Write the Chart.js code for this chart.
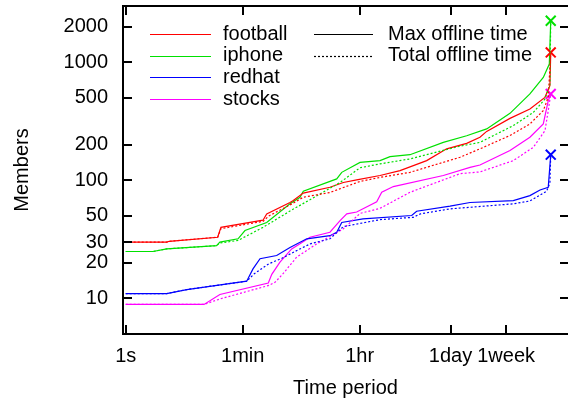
<!DOCTYPE html>
<html>
<head>
<meta charset="utf-8">
<script src="https://cdn.jsdelivr.net/npm/chart.js@4.4.1/dist/chart.umd.min.js"></script>
<style>
  body { margin: 0; background: #fff; }
  canvas { display: block; }
</style>
</head>
<body>
<canvas id="myChart" width="568" height="403"></canvas>
<script>
// axis ticks
const xTickValues = [1, 60, 3600, 86400, 604800];
const xTickLabels = ["1s", "1min", "1hr", "1day", "1week"];
const yTickValues = [10, 20, 30, 50, 100, 200, 500, 1000, 2000];

// series: time period (seconds) -> members
const footballMaxTime = [1, 4.2, 4.6, 25, 28, 122, 139, 314, 352, 500, 1270, 2030, 3240, 7330, 14750, 37500, 75500, 152000, 242000, 306000, 692000, 1390000, 2350000, 2800000, 2880000];
const footballMax = [30, 30, 30.5, 33, 40, 46, 52, 65, 67.5, 78, 87.5, 96, 101, 110, 121, 147, 185, 206, 232, 260, 335, 403, 505, 634, 1213];
const footballTotalTime = [1, 4.2, 4.6, 25, 28, 122, 150, 314, 500, 1270, 3640, 7330, 20900, 120500, 242000, 692000, 1390000, 2220000, 2640000, 2880000];
const footballTotal = [30, 30, 30.5, 33, 39, 45, 50, 62, 72, 79, 98, 106, 117, 157, 185, 240, 301, 390, 505, 1213];

const iphoneMaxTime = [1, 2.6, 4.2, 24, 27, 51, 65, 139, 314, 446, 500, 1610, 1920, 3640, 7330, 10400, 20900, 67100, 152000, 306000, 692000, 1390000, 2220000, 2740000, 2880000];
const iphoneMax = [25, 25, 26.3, 28, 30, 32, 37.6, 44, 63.5, 72, 81, 103, 117, 142, 147, 159, 165, 210, 239, 273, 370, 540, 745, 968, 2250];
const iphoneTotalTime = [1, 2.6, 4.2, 24, 27, 51, 122, 314, 1810, 3640, 7330, 20900, 120500, 242000, 777000, 1570000, 2355000, 2800000, 2880000];
const iphoneTotal = [25, 25, 26.3, 28, 29.5, 31, 40, 55, 96, 128, 138, 152, 195, 210, 291, 377, 489, 655, 2250];

const redhatMaxTime = [1, 4.2, 8.5, 69, 86, 110, 197, 314, 564, 1270, 1610, 1920, 4040, 22200, 26400, 84900, 171000, 777000, 1390000, 1980000, 2640000, 2880000];
const redhatMax = [11, 11, 11.9, 14, 17.8, 21.7, 23.1, 27, 32, 34, 36.4, 44, 47.2, 50.4, 54.8, 60.5, 65, 67.5, 74.3, 83, 87.5, 165];
const redhatTotalTime = [1, 4.2, 8.5, 69, 90, 150, 230, 400, 640, 1270, 2030, 7330, 23500, 30000, 84900, 777000, 1390000, 2490000, 2800000, 2880000];
const redhatTotal = [11, 11, 11.9, 14, 16.2, 19.7, 21.7, 25.5, 29, 32, 40.6, 46.5, 48.7, 52, 57.4, 63.3, 67, 80.9, 95, 165];

const stocksMaxTime = [1, 15.5, 27, 147, 166, 221, 333, 446, 632, 1270, 1810, 2290, 3240, 6530, 7780, 11670, 67100, 171000, 242000, 692000, 1390000, 2220000, 2640000, 2880000];
const stocksMax = [8.9, 8.9, 10.8, 13.5, 16, 20.3, 26.3, 29, 33, 36.4, 45.7, 52, 54, 66, 79.3, 88.7, 110, 129, 135, 179, 232, 301, 473, 540];
const stocksTotalTime = [1, 15.5, 27, 150, 186, 246, 397, 800, 2030, 3640, 7330, 20900, 120500, 242000, 777000, 1570000, 2355000, 2640000, 2880000];
const stocksTotal = [8.9, 8.9, 9.9, 12.9, 13.7, 16.2, 22.4, 29, 38.9, 52.5, 58, 79.3, 114, 118, 147, 191, 264, 390, 540];

const groupLabels = ["football", "iphone", "redhat", "stocks"];
const groupColors = ["#ff0000", "#00e000", "#0000ff", "#ff00ff"];
const styleLabels = ["Max offline time", "Total offline time"];

const FONT = "'Liberation Sans', Arial, sans-serif";

function points(times, values) {
  return times.map((t, i) => ({ x: t, y: values[i] }));
}

function solid(times, values, color) {
  return {
    data: points(times, values),
    borderColor: color,
    backgroundColor: color,
    borderWidth: 1.2,
    pointStyle: "crossRot",
    pointRadius: (c) => (c.dataIndex === times.length - 1 ? 7 : 0),
    pointBorderWidth: 2,
    tension: 0,
  };
}

function dotted(times, values, color) {
  return {
    data: points(times, values),
    borderColor: color,
    borderWidth: 1.2,
    borderDash: [2, 2],
    pointRadius: 0,
    tension: 0,
  };
}

const data = {
  datasets: [
    dotted(footballTotalTime, footballTotal, groupColors[0]),
    dotted(iphoneTotalTime, iphoneTotal, groupColors[1]),
    dotted(redhatTotalTime, redhatTotal, groupColors[2]),
    dotted(stocksTotalTime, stocksTotal, groupColors[3]),
    solid(footballMaxTime, footballMax, groupColors[0]),
    solid(iphoneMaxTime, iphoneMax, groupColors[1]),
    solid(redhatMaxTime, redhatMax, groupColors[2]),
    solid(stocksMaxTime, stocksMax, groupColors[3]),
  ],
};

// gnuplot style frame, inward ticks and key
const framePlugin = {
  id: "frame",
  afterDraw(chart) {
    const { ctx, chartArea: a, scales } = chart;
    ctx.save();
    ctx.strokeStyle = "#000";
    ctx.lineWidth = 2;
    ctx.beginPath();
    xTickValues.forEach((v) => {
      const px = Math.round(scales.x.getPixelForValue(v));
      ctx.moveTo(px, a.bottom);
      ctx.lineTo(px, a.bottom - 9);
      ctx.moveTo(px, a.top);
      ctx.lineTo(px, a.top + 9);
    });
    yTickValues.forEach((v) => {
      const py = Math.round(scales.y.getPixelForValue(v));
      ctx.moveTo(a.left, py);
      ctx.lineTo(a.left + 9, py);
      ctx.moveTo(a.right + 1, py);
      ctx.lineTo(a.right - 8, py);
    });
    ctx.stroke();
    ctx.lineWidth = 2;
    ctx.strokeRect(a.left, a.top, a.right + 3 - a.left, a.bottom - a.top);

    // key
    ctx.font = "20px " + FONT;
    ctx.fillStyle = "#000";
    ctx.textBaseline = "middle";
    ctx.textAlign = "left";
    ctx.lineWidth = 1.2;
    groupLabels.forEach((label, i) => {
      const y = 34 + i * 21.7;
      ctx.strokeStyle = groupColors[i];
      ctx.beginPath();
      ctx.moveTo(150, Math.round(y) + 0.5);
      ctx.lineTo(211, Math.round(y) + 0.5);
      ctx.stroke();
      ctx.fillText(label, 223, y);
    });
    styleLabels.forEach((label, i) => {
      const y = 34 + i * 21.7;
      ctx.strokeStyle = "#000";
      ctx.setLineDash(i === 0 ? [] : [2, 2]);
      ctx.beginPath();
      ctx.moveTo(314, Math.round(y) + 0.5);
      ctx.lineTo(373, Math.round(y) + 0.5);
      ctx.stroke();
      ctx.fillText(label, 388, y);
    });
    ctx.restore();
  },
};

const tickFont = { family: FONT, size: 20 };

const config = {
  type: "line",
  data: data,
  options: {
    responsive: false,
    animation: false,
    layout: { autoPadding: false, padding: { top: 6, left: 0, right: 0, bottom: 0 } },
    plugins: { legend: { display: false }, tooltip: { enabled: false } },
    scales: {
      x: {
        type: "logarithmic",
        min: 0.91,
        max: 5.27e6,
        grid: { display: false, drawTicks: false },
        border: { display: false },
        afterBuildTicks: (s) => {
          s.ticks = xTickValues.map((v) => ({ value: v }));
        },
        afterFit: (s) => {
          s.height = 69;
          s.paddingLeft = 0;
          s.paddingRight = 0;
        },
        ticks: {
          autoSkip: false,
          maxRotation: 0,
          padding: 10,
          color: "#000",
          font: tickFont,
          callback: (v) => xTickLabels[xTickValues.indexOf(v)],
        },
        title: { display: true, text: "Time period", color: "#000", font: tickFont, padding: { top: 0, bottom: 3 } },
      },
      y: {
        type: "logarithmic",
        min: 5,
        max: 3000,
        grid: { display: false, drawTicks: false },
        border: { display: false },
        afterBuildTicks: (s) => {
          s.ticks = yTickValues.map((v) => ({ value: v }));
        },
        afterFit: (s) => {
          s.width = 123;
          s.paddingTop = 0;
          s.paddingBottom = 0;
        },
        ticks: {
          autoSkip: false,
          padding: 15,
          color: "#000",
          font: tickFont,
          callback: (v) => String(v),
        },
        title: { display: true, text: "Members", color: "#000", font: tickFont, padding: { top: 10, bottom: 0 } },
      },
    },
  },
  plugins: [framePlugin],
};

const myChart = new Chart(document.getElementById("myChart"), config);
</script>
</body>
</html>
